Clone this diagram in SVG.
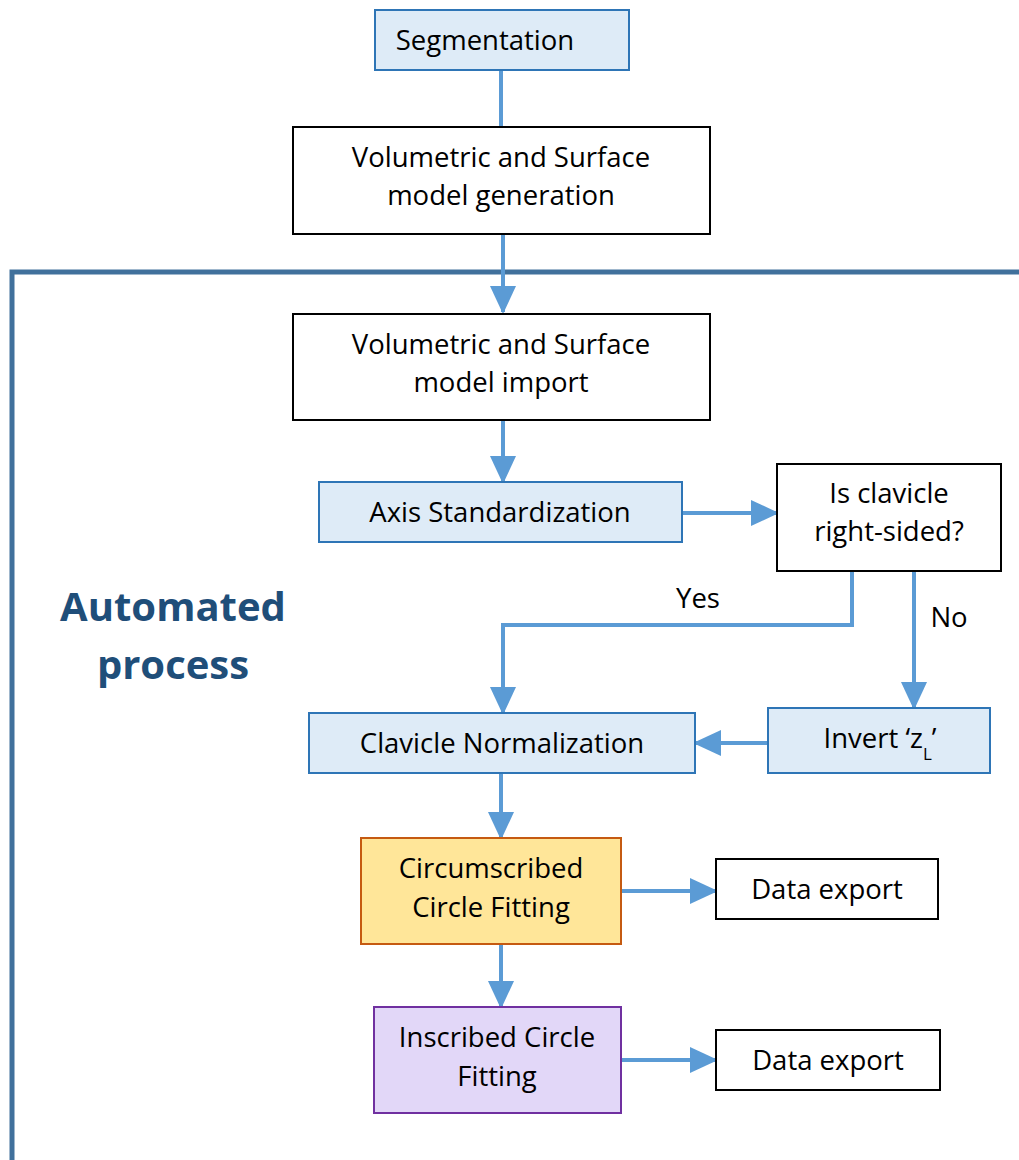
<svg xmlns="http://www.w3.org/2000/svg" width="1019" height="1160" viewBox="0 0 1019 1160">
<defs>
<marker id="ah" markerUnits="userSpaceOnUse" markerWidth="28" markerHeight="26" viewBox="0 0 28 26" refX="26" refY="13" orient="auto">
<path d="M0,0 L28,13 L0,26 Z" fill="#5b9bd5"/>
</marker>
<style>
.t{font-family:"Open Sans","Liberation Sans",sans-serif;font-size:27.5px;fill:#000;text-anchor:middle}
.blue{fill:#deebf7;stroke:#2e75b6;stroke-width:2}
.white{fill:#fff;stroke:#000;stroke-width:2}
.c{fill:none;stroke:#5b9bd5;stroke-width:4}
.big{font-family:"Open Sans","Liberation Sans",sans-serif;font-weight:bold;font-size:40px;fill:#1f4e79;text-anchor:middle}
</style>
</defs>
<rect width="1019" height="1160" fill="#fff"/>
<g id="frame">
<path d="M12,1160 L12,272 L1019,272" fill="none" stroke="#41719c" stroke-width="5"/>
</g>
<g id="connectors">
<path class="c" d="M501,70 L501,127"/>
<path class="c" d="M503,234 L503,312" marker-end="url(#ah)"/>
<path class="c" d="M503,420 L503,482" marker-end="url(#ah)"/>
<path class="c" d="M682,513 L777,513" marker-end="url(#ah)"/>
<path class="c" d="M852,571 L852,625 L503,625 L503,713" marker-end="url(#ah)"/>
<path class="c" d="M914,571 L914,708" marker-end="url(#ah)"/>
<path class="c" d="M768,743 L695,743" marker-end="url(#ah)"/>
<path class="c" d="M501,773 L501,838" marker-end="url(#ah)"/>
<path class="c" d="M621,891 L716,891" marker-end="url(#ah)"/>
<path class="c" d="M501,944 L501,1007" marker-end="url(#ah)"/>
<path class="c" d="M621,1060 L716,1060" marker-end="url(#ah)"/>
</g>
<g id="labels">
<text class="t" x="698" y="608">Yes</text>
<text class="t" x="949" y="627">No</text>
<text class="big" x="173" y="621">Automated</text>
<text class="big" x="173" y="679">process</text>
</g>
<g id="segmentation">
<rect class="blue" x="375" y="10" width="254" height="60"/>
<text class="t" x="485" y="50">Segmentation</text>
</g>
<g id="generation">
<rect class="white" x="293" y="127" width="417" height="107"/>
<text class="t" x="501" y="167">Volumetric and Surface</text>
<text class="t" x="501" y="205">model generation</text>
</g>
<g id="import">
<rect class="white" x="293" y="314" width="417" height="106"/>
<text class="t" x="501" y="354">Volumetric and Surface</text>
<text class="t" x="501" y="392">model import</text>
</g>
<g id="axis">
<rect class="blue" x="319" y="482" width="363" height="60"/>
<text class="t" x="500" y="522">Axis Standardization</text>
</g>
<g id="decision">
<rect class="white" x="777" y="464" width="224" height="107"/>
<text class="t" x="889" y="503">Is clavicle</text>
<text class="t" x="889" y="541">right-sided?</text>
</g>
<g id="normalization">
<rect class="blue" x="309" y="713" width="386" height="60"/>
<text class="t" x="502" y="753">Clavicle Normalization</text>
</g>
<g id="invert">
<rect class="blue" x="768" y="708" width="222" height="65"/>
<text class="t" x="880" y="748">Invert ‘z<tspan font-size="17" dy="12">L</tspan><tspan dy="-12">’</tspan></text>
</g>
<g id="circumscribed">
<rect x="361" y="838" width="260" height="106" fill="#ffe699" stroke="#c55a11" stroke-width="2"/>
<text class="t" x="491" y="878">Circumscribed</text>
<text class="t" x="491" y="917">Circle Fitting</text>
</g>
<g id="export1">
<rect class="white" x="716" y="859" width="222" height="60"/>
<text class="t" x="827" y="899">Data export</text>
</g>
<g id="inscribed">
<rect x="374" y="1007" width="247" height="106" fill="#e2d7f8" stroke="#7030a0" stroke-width="2"/>
<text class="t" x="497" y="1047">Inscribed Circle</text>
<text class="t" x="497" y="1086">Fitting</text>
</g>
<g id="export2">
<rect class="white" x="716" y="1030" width="224" height="60"/>
<text class="t" x="828" y="1070">Data export</text>
</g>
</svg>
